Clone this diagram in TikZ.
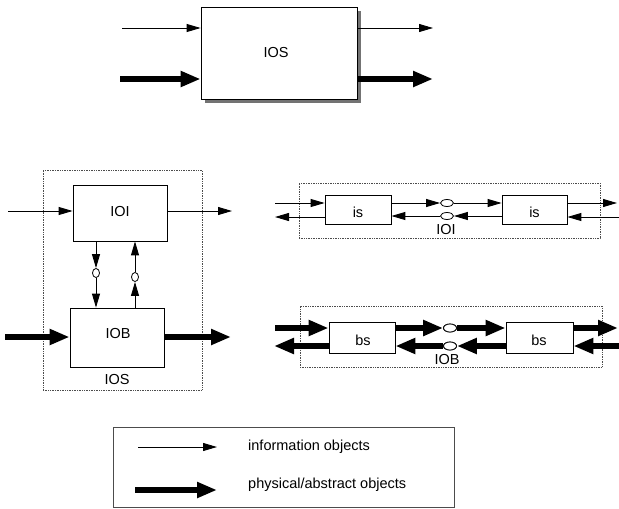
\documentclass[tikz,border=0pt]{standalone}
\usepackage{fontspec}
\setmainfont{Liberation Sans}
\usetikzlibrary{arrows.meta,shapes.geometric}
\begin{document}
\begin{tikzpicture}[x=1pt,y=-1pt,
  box/.style={draw,fill=white,line width=0.8pt,inner sep=0pt,anchor=center},
  frame/.style={draw=black!70,densely dotted,line width=0.7pt},
  info/.style={line width=0.9pt,-{Triangle[length=14pt,width=8pt]}},
  phys/.style={line width=5.5pt,-{Triangle[length=20pt,width=15pt]}},
  lbl/.style={inner sep=0pt,font=\fontsize{14.5}{17}\selectfont},
  oval/.style={draw,ellipse,fill=white,line width=0.8pt,inner sep=0pt},
]
\useasboundingbox (0,0) rectangle (619,509);

% ---------- top IOS ----------
\node[box,minimum width=156pt,minimum height=92pt] (ios) at (279,53) {};
\fill[black!55] ([shift={(4,4)}]ios.south west) rectangle ([shift={(4,4)}]ios.north east);
\node[box,minimum width=156pt,minimum height=92pt] (ios2) at (279,53) {};
\node[lbl] (iosl) at (276,53) {IOS};
\coordinate (ti1) at (122,28);
\coordinate (ti2) at (120,79);
\coordinate (to1) at (433,28);
\coordinate (to2) at (433,79);
\draw[info] (ti1) -- (ti1 -| ios2.west);
\draw[phys] (ti2) -- (ti2 -| ios2.west);
\draw[info] (to1 -| ios2.east) -- (to1);
\draw[phys] (to2 -| ios2.east) -- (to2);

% ---------- bottom-left IOS ----------
\node[frame,minimum width=159pt,minimum height=220pt,inner sep=0pt] (iosf) at (122.5,280) {};
\node[lbl] (iosfl) at (117,380) {IOS};
\node[box,minimum width=94pt,minimum height=56pt] (ioi) at (120,213) {};
\node[lbl] (ioil) at (120,212) {IOI};
\node[box,minimum width=94pt,minimum height=59pt] (iob) at (117,337.5) {};
\node[lbl] (iobl) at (118,334) {IOB};
\coordinate (li1) at (8,211);
\coordinate (lo1) at (232,211);
\coordinate (li2) at (5,337);
\coordinate (lo2) at (231,337);
\draw[info] (li1) -- (li1 -| ioi.west);
\draw[info] (lo1 -| ioi.east) -- (lo1);
\draw[phys] (li2) -- (li2 -| iob.west);
\draw[phys] (lo2 -| iob.east) -- (lo2);
\node[oval,minimum width=7pt,minimum height=9pt] (va) at (96,273) {};
\node[oval,minimum width=7pt,minimum height=9pt] (vb) at (135,277) {};
\draw[info] (va |- ioi.south) -- (va.north);
\draw[info] (va.south) -- (va |- iob.north);
\draw[info] (vb |- iob.north) -- (vb.south);
\draw[info] (vb.north) -- (vb |- ioi.south);

% ---------- right IOI ----------
\node[frame,minimum width=301pt,minimum height=55pt,inner sep=0pt] (ioif) at (449.5,210.5) {};
\node[box,minimum width=66pt,minimum height=29pt] (is1) at (358,209.5) {};
\node[lbl] (is1l) at (358,212) {is};
\node[box,minimum width=65pt,minimum height=29pt] (is2) at (534.5,209.5) {};
\node[lbl] (is2l) at (534.5,212) {is};
\node[lbl] (ioifl) at (446,230) {IOI};
\node[oval,minimum width=13pt,minimum height=7pt] (ia) at (447,203) {};
\node[oval,minimum width=13pt,minimum height=7pt] (ib) at (447,216) {};
\coordinate (ri1) at (275,203);
\coordinate (ro1) at (617,203);
\coordinate (ri2) at (619,217);
\coordinate (ro2) at (275,217);
\draw[info] (ri1) -- (ri1 -| is1.west);
\draw[info] (ri1 -| is1.east) -- (ia.west);
\draw[info] (ia.east) -- (ri1 -| is2.west);
\draw[info] (ro1 -| is2.east) -- (ro1);
\draw[info] (ri2) -- (ri2 -| is2.east);
\draw[info] (ib -| is2.west) -- (ib.east);
\draw[info] (ib.west) -- (ib -| is1.east);
\draw[info] (ro2 -| is1.west) -- (ro2);

% ---------- right IOB ----------
\node[frame,minimum width=302pt,minimum height=61pt,inner sep=0pt] (iobf) at (451,336.5) {};
\node[box,minimum width=66pt,minimum height=31pt] (bs1) at (362,337.5) {};
\node[lbl] (bs1l) at (363,340) {bs};
\node[box,minimum width=67pt,minimum height=31pt] (bs2) at (539.5,337.5) {};
\node[lbl] (bs2l) at (539,340) {bs};
\node[lbl] (iobfl) at (447,360) {IOB};
\node[oval,minimum width=13pt,minimum height=8pt] (ba) at (450,328) {};
\node[oval,minimum width=13pt,minimum height=8pt] (bb) at (450,346) {};
\coordinate (bi1) at (275,328);
\coordinate (bo1) at (618,328);
\coordinate (bi2) at (619,346);
\coordinate (bo2) at (274,346);
\draw[phys] (bi1) -- (bi1 -| bs1.west);
\draw[phys] (bi1 -| bs1.east) -- (ba.west);
\draw[phys] (ba.east) -- (bi1 -| bs2.west);
\draw[phys] (bo1 -| bs2.east) -- (bo1);
\draw[phys] (bi2) -- (bi2 -| bs2.east);
\draw[phys] (bb -| bs2.west) -- (bb.east);
\draw[phys] (bb.west) -- (bb -| bs1.east);
\draw[phys] (bo2 -| bs1.west) -- (bo2);
\node[oval,minimum width=13pt,minimum height=8pt] (ba2) at (450,328) {};
\node[oval,minimum width=13pt,minimum height=8pt] (bb2) at (450,346) {};

% ---------- legend ----------
\node[draw=black!70,line width=0.7pt,minimum width=341pt,minimum height=80pt,inner sep=0pt] (leg) at (283.5,467) {};
\coordinate (la1) at (138,447);
\coordinate (la2) at (217,447);
\coordinate (lb1) at (135,490);
\coordinate (lb2) at (217,490);
\draw[info] (la1) -- (la2);
\draw[phys] (lb1) -- (lb2);
\node[lbl,anchor=west] (legt1) at (248,447) {information objects};
\node[lbl,anchor=west] (legt2) at (248,485) {physical/abstract objects};
\end{tikzpicture}
\end{document}
